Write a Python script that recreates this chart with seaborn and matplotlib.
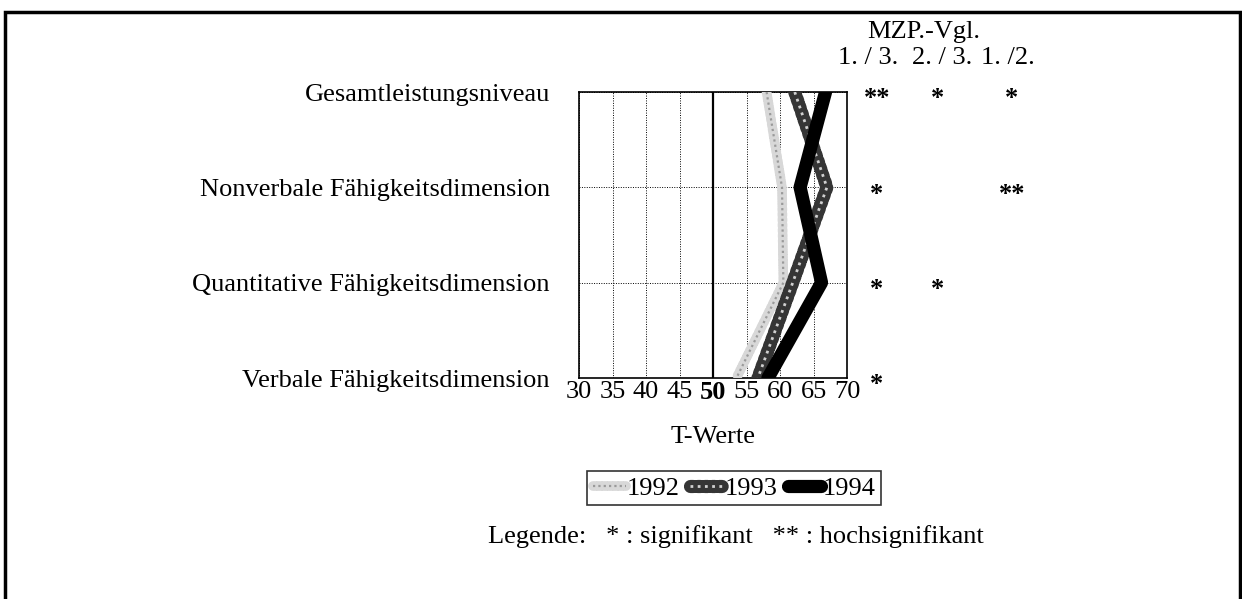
import matplotlib
matplotlib.use('Agg')
import matplotlib.pyplot as plt
import matplotlib.patheffects as pe
from matplotlib.lines import Line2D
from matplotlib.patches import Rectangle
import pandas as pd
import seaborn as sns

# data
categories = ["Gesamtleistungsniveau", "Nonverbale Fähigkeitsdimension",
              "Quantitative Fähigkeitsdimension", "Verbale Fähigkeitsdimension"]
years = ["1992", "1993", "1994"]
t_1992 = [58.0, 60.3, 60.5, 53.5]
t_1993 = [62.2, 67.0, 61.9, 56.7]
t_1994 = [66.8, 63.0, 66.2, 58.2]
x_ticks = [30, 35, 40, 45, 50, 55, 60, 65, 70]
comparisons = ["1. / 3.", "2. / 3.", "1. /2."]
sig_1_3 = ["**", "*", "*", "*"]
sig_2_3 = ["*", "", "*", ""]
sig_1_2 = ["*", "**", "", ""]

sns.set_theme(style='white')
plt.rcParams['font.family'] = ['Liberation Serif', 'DejaVu Serif']
for key in ['text.color', 'axes.labelcolor', 'xtick.color', 'ytick.color']:
    plt.rcParams[key] = 'black'
FS = 19

pos = [len(categories) - 1 - i for i in range(len(categories))]
df = pd.DataFrame({
    'Dimension': categories * 3,
    'pos': pos * 3,
    'T': t_1992 + t_1993 + t_1994,
    'Jahr': [y for y in years for _ in categories],
})

W, H = 1242, 599
fig = plt.figure(figsize=(W / 100, H / 100), dpi=100)
ax = fig.add_axes([579 / W, 1 - 378 / H, (847 - 579) / W, (378 - 92) / H])

styles = {
    '1992': dict(color='#9a9a9a', lw=1.6, ls=(0, (1, 1.4)),
                 path_effects=[pe.Stroke(linewidth=7, foreground='#d8d8d8', capstyle='round'), pe.Normal()]),
    '1993': dict(color='#d0d0d0', lw=2.0, ls=(0, (1, 1.6)),
                 path_effects=[pe.Stroke(linewidth=9.5, foreground='#353535', capstyle='round'), pe.Normal()]),
    '1994': dict(color='black', lw=9.5, solid_capstyle='round'),
}

for y in years:
    sub = df[df['Jahr'] == y]
    sns.lineplot(data=sub, x='T', y='pos', sort=False, estimator=None,
                 ax=ax, legend=False, zorder=3, **styles[y])

ax.set_xlim(30, 70)
ax.set_ylim(0, len(categories) - 1)
ax.set_xticks(x_ticks)
ax.set_xticklabels([str(t) for t in x_ticks], fontsize=FS)
ax.get_xticklabels()[x_ticks.index(50)].set_fontweight('bold')
ax.set_yticks(pos)
ax.set_yticklabels(categories, fontsize=FS)
ax.tick_params(axis='both', length=0)
ax.tick_params(axis='x', pad=2)
ax.tick_params(axis='y', pad=21)
ax.set_xlabel('T-Werte', fontsize=FS, labelpad=16)
ax.set_ylabel('')

ax.grid(True, axis='both', color='black', lw=0.7, ls=(0, (1, 1.5)))
ax.axvline(50, color='black', lw=1.6, zorder=2)
for s in ax.spines.values():
    s.set_color('black')
    s.set_linewidth(1.2)

# significance columns
head_x = [868, 942, 1008]
star_x = [877, 938, 1012]
fig.text(924 / W, 1 - 32 / H, 'MZP.-Vgl.', ha='center', va='center', fontsize=FS)
for cx, lab in zip(head_x, comparisons):
    fig.text(cx / W, 1 - 58 / H, lab, ha='center', va='center', fontsize=FS)
trans = matplotlib.transforms.blended_transform_factory(fig.transFigure, ax.transData)
for cx, sig in zip(star_x, [sig_1_3, sig_2_3, sig_1_2]):
    for p, s in zip(pos, sig):
        if s:
            fig.text(cx / W, p - 0.07, s, ha='center', va='center', fontsize=FS,
                     fontweight='bold', transform=trans)

# legend
handles = [Line2D([], [], **styles[y]) for y in years]
leg = fig.legend(handles, years, loc='center', bbox_to_anchor=(734 / W, 1 - 488 / H),
                 ncol=3, frameon=True, fancybox=False, edgecolor='black',
                 fontsize=FS, handlelength=1.25, handletextpad=0.05,
                 columnspacing=0.4, borderpad=0.2, borderaxespad=0)
leg.get_frame().set_linewidth(1.2)

fig.text(736 / W, 1 - 537 / H, 'Legende:   * : signifikant   ** : hochsignifikant',
         ha='center', va='center', fontsize=FS)

fig.add_artist(Rectangle((5 / W, -0.05), (1240 - 5) / W, 1 - 12 / H + 0.05,
                         transform=fig.transFigure, fill=False, lw=2.5,
                         edgecolor='black', clip_on=False))

fig.savefig('out.png', dpi=100)
